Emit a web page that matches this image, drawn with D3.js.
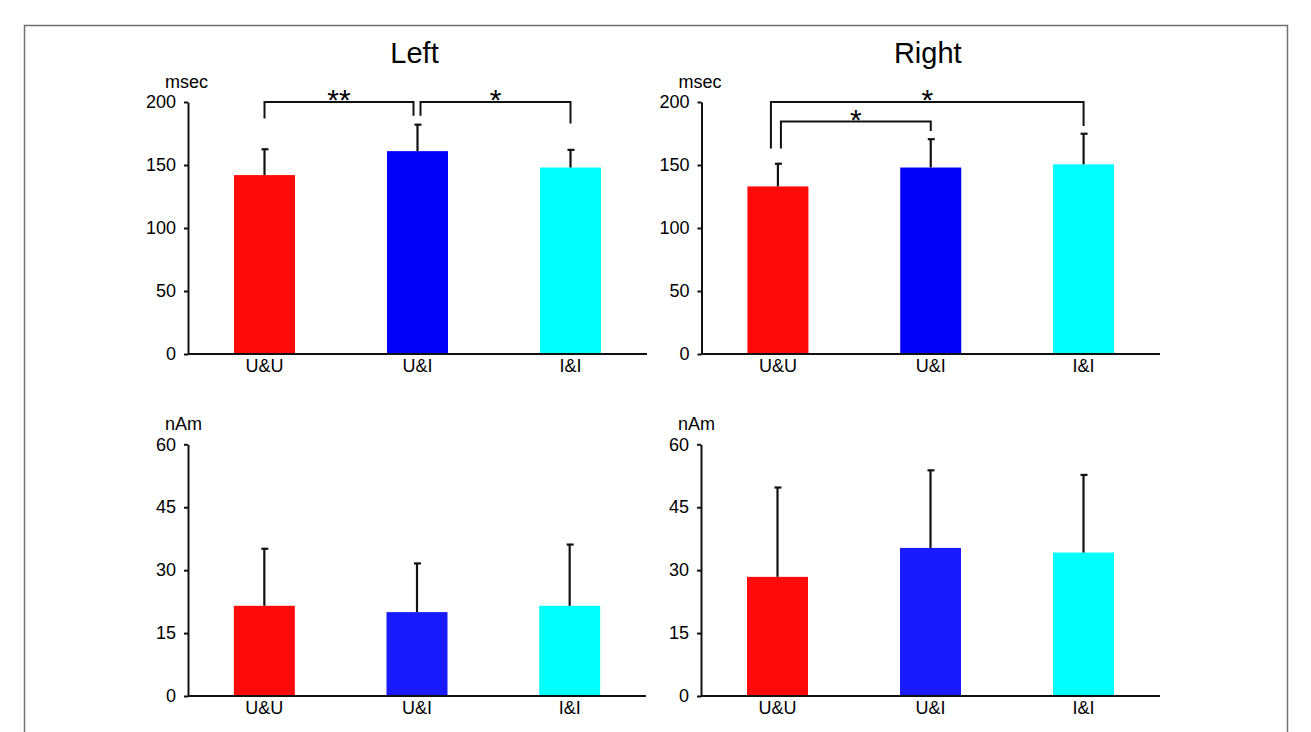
<!DOCTYPE html>
<html>
  <head>
    <meta charset="UTF-8">
    <title>Left / Right latency and amplitude</title>
  </head>
  <style type="text/css">
    body {
      margin: 0;
      background: #fff;
    }

    text {
      font-family: Arial, "Liberation Sans", sans-serif;
      fill: #000;
    }

    .axis path, .axis line {
      stroke: #111;
      stroke-width: 2;
    }

    .axis text {
      font-size: 18px;
    }

  </style>
  <body>
    <svg width="1311" height="732"></svg>
  </body>
  <script src="https://d3js.org/d3.v7.min.js"></script>
  <script type="text/javascript">
    // values
    const categories = ['U&U', 'U&I', 'I&I'];

    const latencyLeft = [142, 161, 148];
    const latencyLeftSD = [20.5, 21, 14];
    const latencyRight = [133, 148, 150.5];
    const latencyRightSD = [18, 22.5, 24.3];

    const amplitudeLeft = [21.5, 20, 21.5];
    const amplitudeLeftSD = [13.6, 11.6, 14.6];
    const amplitudeRight = [28.4, 35.3, 34.2];
    const amplitudeRightSD = [21.3, 18.5, 18.5];

    const latencyTicks = [0, 50, 100, 150, 200];
    const amplitudeTicks = [0, 15, 30, 45, 60];

    const sigLeft = [
      { from: 0, to: 1, label: '**' },
      { from: 1, to: 2, label: '*' }
    ];
    const sigRight = [
      { from: 0, to: 2, label: '*' },
      { from: 0, to: 1, label: '*' }
    ];

    let svg = d3.select('svg');

    // grey frame round the figure
    svg.append('path')
        .attr('d', 'M24.5,732V25.5H1287.5V732')
        .attr('fill', 'none')
        .attr('stroke', '#707070')
        .attr('stroke-width', 1.5);

    // bracket drawing settings per panel: level, leg offsets and leg ends (data units)
    const bracketLayoutLeft = [
      { level: 200, dx0: 0, dx1: -4, end0: 187, end1: 189 },
      { level: 200, dx0: 3, dx1: 0, end0: 189, end1: 183 }
    ];
    const bracketLayoutRight = [
      { level: 200, dx0: -7, dx1: 0, end0: 163, end1: 181 },
      { level: 184.5, dx0: 3, dx1: 0, end0: 163, end1: 177 }
    ];

    const panels = [
      { values: latencyLeft, sd: latencyLeftSD, ticks: latencyTicks, unit: 'msec',
        xr: [188, 647], yr: [354, 102], title: 'Left', sig: sigLeft, layout: bracketLayoutLeft,
        colors: ['#ff0a0a', '#0000f8', '#00ffff'] },
      { values: latencyRight, sd: latencyRightSD, ticks: latencyTicks, unit: 'msec',
        xr: [701.5, 1160], yr: [354, 102], title: 'Right', sig: sigRight, layout: bracketLayoutRight,
        colors: ['#ff0a0a', '#0000f8', '#00ffff'] },
      { values: amplitudeLeft, sd: amplitudeLeftSD, ticks: amplitudeTicks, unit: 'nAm',
        xr: [188, 646], yr: [696, 444.3],
        colors: ['#ff0a0a', '#1a1aff', '#00ffff'] },
      { values: amplitudeRight, sd: amplitudeRightSD, ticks: amplitudeTicks, unit: 'nAm',
        xr: [701, 1160], yr: [696, 444.3],
        colors: ['#ff0a0a', '#1a1aff', '#00ffff'] }
    ];

    const barWidth = 61;

    const drawPanel = (p) => {
      const g = svg.append('g');

      const x = d3.scalePoint()
        .domain(categories)
        .range(p.xr)
        .padding(0.5);

      const y = d3.scaleLinear()
        .domain([p.ticks[0], p.ticks[p.ticks.length - 1]])
        .range(p.yr);

      const rows = categories.map((c, i) => ({ cat: c, v: p.values[i], sd: p.sd[i], color: p.colors[i] }));

      // bars
      g.selectAll('rect.bar')
        .data(rows)
        .enter().append('rect')
          .attr('class', 'bar')
          .attr('x', d => x(d.cat) - barWidth / 2)
          .attr('width', barWidth)
          .attr('y', d => y(d.v))
          .attr('height', d => y(0) - y(d.v))
          .attr('fill', d => d.color);

      // error bars (upper only)
      g.selectAll('line.err')
        .data(rows)
        .enter().append('line')
          .attr('class', 'err')
          .attr('x1', d => x(d.cat)).attr('x2', d => x(d.cat))
          .attr('y1', d => y(d.v)).attr('y2', d => y(d.v + d.sd))
          .attr('stroke', '#111').attr('stroke-width', 2.2);

      g.selectAll('line.cap')
        .data(rows)
        .enter().append('line')
          .attr('class', 'cap')
          .attr('x1', d => x(d.cat) - 3).attr('x2', d => x(d.cat) + 4)
          .attr('y1', d => y(d.v + d.sd)).attr('y2', d => y(d.v + d.sd))
          .attr('stroke', '#111').attr('stroke-width', 2.2);

      // axes
      g.append('g')
        .attr('class', 'axis')
        .attr('transform', 'translate(' + p.xr[0] + ',0)')
        .call(d3.axisLeft(y).tickValues(p.ticks).tickSize(4).tickSizeOuter(0).tickPadding(8));

      g.append('line')
        .attr('x1', p.xr[0]).attr('x2', p.xr[1])
        .attr('y1', y(0)).attr('y2', y(0))
        .attr('stroke', '#111').attr('stroke-width', 2);

      g.selectAll('text.cat')
        .data(categories)
        .enter().append('text')
          .attr('class', 'cat')
          .attr('x', d => x(d))
          .attr('y', y(0) + 18)
          .attr('text-anchor', 'middle')
          .style('font-size', '18px')
          .text(d => d);

      g.append('text')
        .attr('x', p.xr[0] - 23)
        .attr('y', p.yr[1] - 14)
        .style('font-size', '18px')
        .text(p.unit);

      if (p.title) {
        g.append('text')
          .attr('x', (p.xr[0] + p.xr[1]) / 2 - 3)
          .attr('y', 63)
          .attr('text-anchor', 'middle')
          .style('font-size', '29px')
          .text(p.title);
      }

      if (p.sig) {
        p.sig.forEach((s, i) => {
          const l = p.layout[i];
          const xa = x(categories[s.from]) + l.dx0,
                xb = x(categories[s.to]) + l.dx1;
          g.append('path')
            .attr('d', 'M' + xa + ',' + y(l.end0) + 'V' + y(l.level) + 'H' + xb + 'V' + y(l.end1))
            .attr('fill', 'none')
            .attr('stroke', '#111')
            .attr('stroke-width', 2);
          g.append('text')
            .attr('x', (xa + xb) / 2)
            .attr('y', y(l.level + 7) + 17)
            .attr('text-anchor', 'middle')
            .style('font-size', '30px')
            .text(s.label);
        });
      }
    };

    panels.forEach(drawPanel);

  </script>
</html>
